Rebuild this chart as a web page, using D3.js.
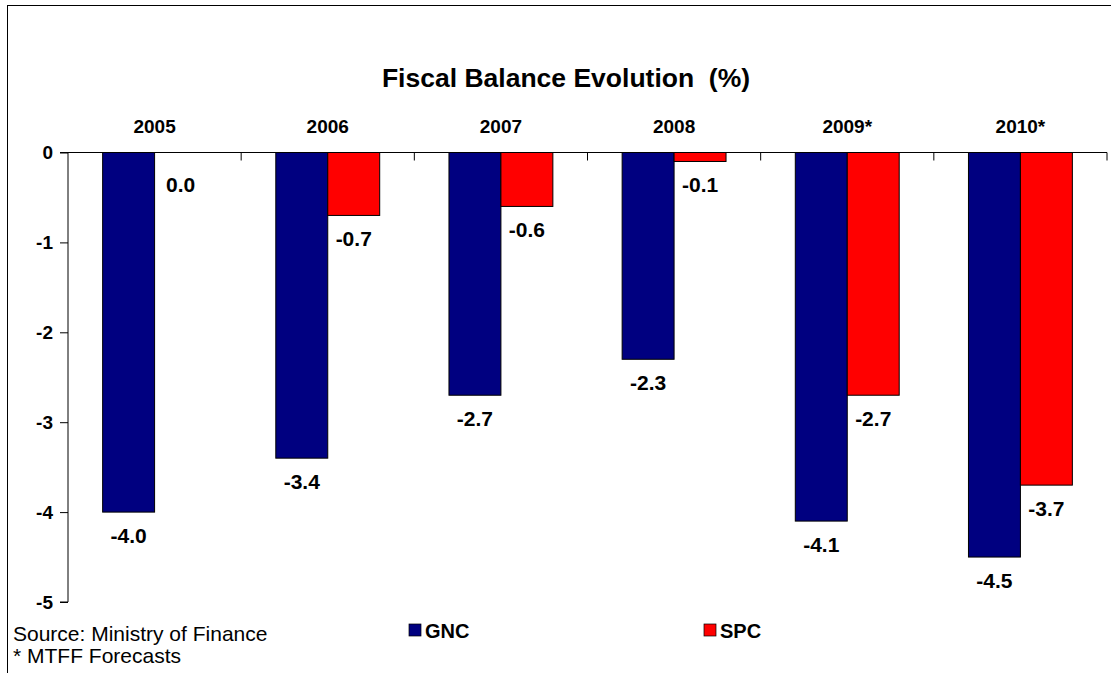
<!DOCTYPE html>
<html>
<head>
<meta charset="utf-8">
<script src="https://cdn.jsdelivr.net/npm/d3@7"></script>
<style>
  html, body { margin: 0; padding: 0; background: #fff; }
  svg { display: block; font-family: "Liberation Sans", Arial, sans-serif; }
</style>
</head>
<body>
<svg id="chart" width="1111" height="673"></svg>
<script>
// Fiscal balance, % of GDP
const years = ["2005", "2006", "2007", "2008", "2009*", "2010*"];
const gnc = [-4.0, -3.4, -2.7, -2.3, -4.1, -4.5];
const spc = [0.0, -0.7, -0.6, -0.1, -2.7, -3.7];
const seriesNames = ["GNC", "SPC"];
const seriesColors = ["#000080", "#FF0000"];
const yTicks = [0, -1, -2, -3, -4, -5];

const svg = d3.select("#chart");

// outer frame
svg.append("rect")
  .attr("x", 7.5).attr("y", 5.5)
  .attr("width", 1120).attr("height", 700)
  .attr("fill", "none").attr("stroke", "#000").attr("stroke-width", 1);

const plotLeft = 68, plotRight = 1107, plotTop = 152.5, plotBottom = 602;

const x = d3.scaleBand().domain(years).range([plotLeft, plotRight]).padding(0);
const y = d3.scaleLinear().domain([0, -5]).range([plotTop, plotBottom]);
const barW = x.bandwidth() * 0.3;

// title
svg.append("text")
  .attr("x", 566).attr("y", 87)
  .attr("text-anchor", "middle")
  .attr("font-size", 26.5).attr("font-weight", "bold")
  .style("white-space", "pre")
  .text("Fiscal Balance Evolution  (%)");

// category labels above the plot
svg.append("g").selectAll("text")
  .data(years).join("text")
  .attr("x", d => x(d) + x.bandwidth() / 2)
  .attr("y", 133)
  .attr("text-anchor", "middle")
  .attr("font-size", 19).attr("font-weight", "bold")
  .text(d => d);

// bars
const groups = [gnc, spc];
groups.forEach((vals, si) => {
  svg.append("g").selectAll("rect")
    .data(vals).join("rect")
    .attr("x", (d, i) => x(years[i]) + x.bandwidth() / 2 - barW + si * barW)
    .attr("y", y(0))
    .attr("width", barW)
    .attr("height", d => y(d) - y(0))
    .attr("fill", seriesColors[si])
    .attr("stroke", "#000").attr("stroke-width", 1);

  svg.append("g").selectAll("text")
    .data(vals).join("text")
    .attr("x", (d, i) => x(years[i]) + x.bandwidth() / 2 - barW / 2 + si * barW)
    .attr("y", d => Math.max(y(d), y(0) + 8) + 31)
    .attr("text-anchor", "middle")
    .attr("font-size", 21).attr("font-weight", "bold")
    .text(d => d.toFixed(1));
});

// y axis
const yAxis = d3.axisLeft(y).tickValues(yTicks).tickSize(8).tickFormat(d => String(d));
const gy = svg.append("g").attr("transform", `translate(${plotLeft},0)`).call(yAxis);
gy.select(".domain").attr("d", `M0,${plotTop}V${plotBottom}H-8`).attr("stroke", "#000");
gy.selectAll(".tick line").attr("stroke", "#000");
gy.selectAll(".tick text")
  .attr("x", -15)
  .attr("font-size", 19).attr("font-weight", "bold")
  .attr("font-family", "Liberation Sans, Arial, sans-serif")
  .attr("fill", "#000");

// x axis line at zero with tick marks between categories
const xAxis = d3.axisBottom(x).tickSize(0).tickFormat("");
const gx = svg.append("g").attr("transform", `translate(0,${y(0)})`).call(xAxis);
gx.select(".domain").attr("d", `M${plotLeft - 8},0H${plotRight}`).attr("stroke", "#000");
gx.selectAll(".tick").remove();
gx.selectAll("line.sep")
  .data(years).join("line")
  .attr("class", "sep")
  .attr("x1", d => x(d) + x.bandwidth()).attr("x2", d => x(d) + x.bandwidth())
  .attr("y1", 0).attr("y2", 8)
  .attr("stroke", "#000");

// legend
const legendX = [409, 704];
seriesNames.forEach((name, i) => {
  svg.append("rect")
    .attr("x", legendX[i]).attr("y", 624)
    .attr("width", 12).attr("height", 12)
    .attr("fill", seriesColors[i]).attr("stroke", "#000").attr("stroke-width", 0.7);
  svg.append("text")
    .attr("x", legendX[i] + 16).attr("y", 638)
    .attr("font-size", 20).attr("font-weight", "bold")
    .text(name);
});

// notes
svg.append("text").attr("x", 13).attr("y", 641)
  .attr("font-size", 21).text("Source: Ministry of Finance");
svg.append("text").attr("x", 13).attr("y", 663)
  .attr("font-size", 21).text("* MTFF Forecasts");
</script>
</body>
</html>
